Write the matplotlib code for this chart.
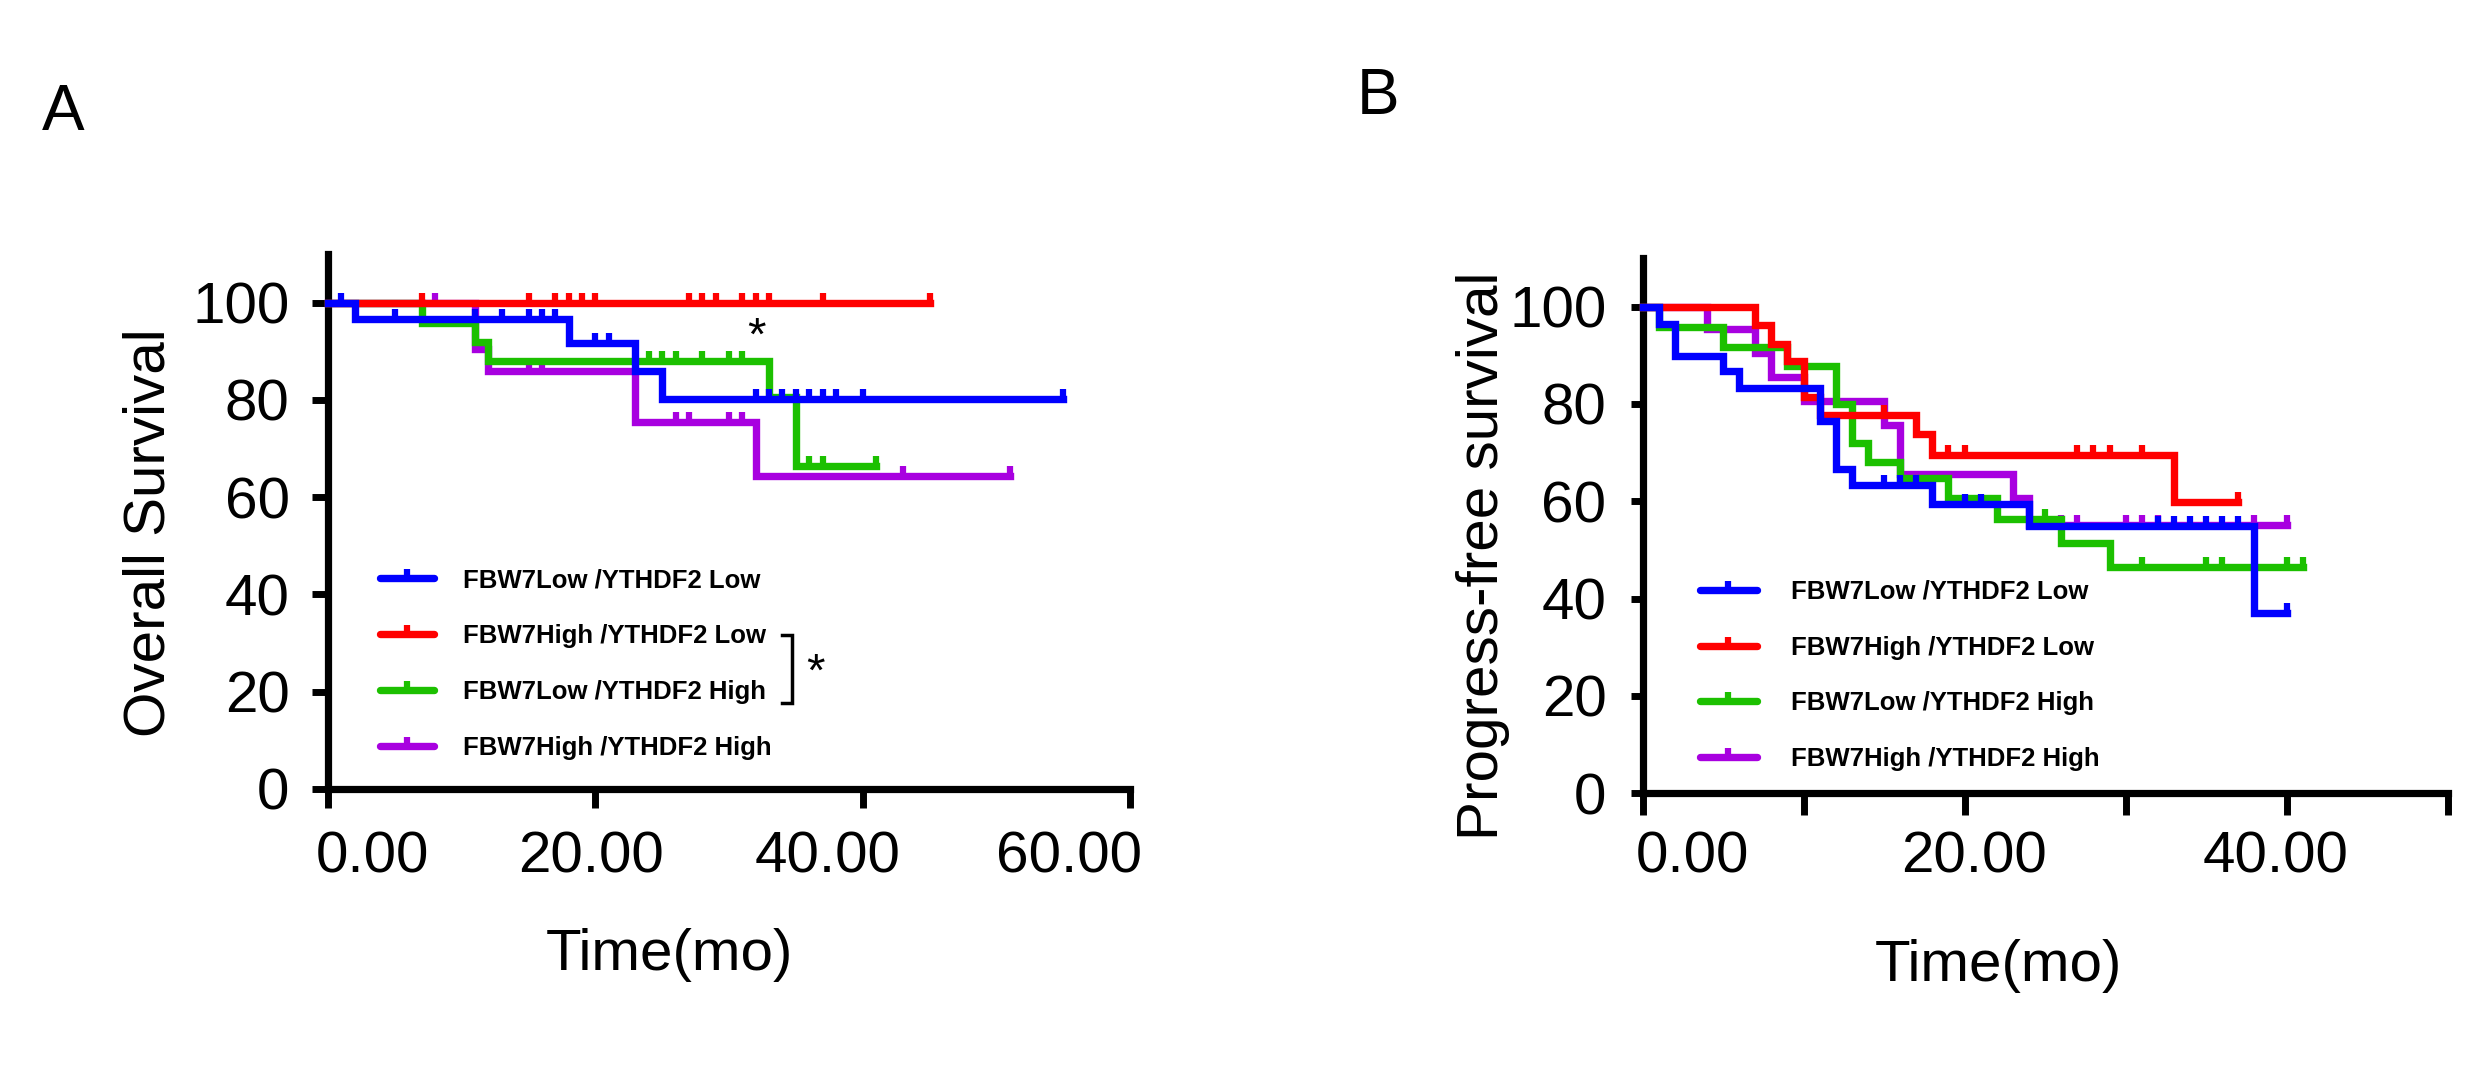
import numpy as np
import matplotlib
matplotlib.use('Agg')
import matplotlib.pyplot as plt
from matplotlib.path import Path
from matplotlib.lines import Line2D
from matplotlib.transforms import blended_transform_factory

plt.rcParams['font.family'] = ['Liberation Sans', 'DejaVu Sans']

# Groups (legend order) and colours
groups = ['FBW7Low /YTHDF2 Low', 'FBW7High /YTHDF2 Low',
          'FBW7Low /YTHDF2 High', 'FBW7High /YTHDF2 High']
colors = ['#0000ff', '#ff0000', '#1cc000', '#a800e0']

# Panel A - overall survival: event times, survival after each event, censored times
os_t = [
    [2, 18, 23, 25],
    [],
    [7, 11, 12, 33, 35],
    [11, 12, 23, 32],
]
os_s = [
    [96.7, 91.8, 86.0, 80.2],
    [],
    [95.8, 91.9, 88.0, 80.7, 66.5],
    [90.4, 86.0, 75.5, 64.4],
]
os_c = [
    [1, 5, 11, 13, 15, 16, 17, 20, 21, 32, 33, 34, 35, 36, 37, 38, 40, 55],
    [7, 15, 17, 18, 19, 20, 27, 28, 29, 31, 32, 33, 37, 45],
    [24, 25, 26, 28, 30, 31, 36, 37, 41],
    [8, 15, 16, 26, 27, 30, 31, 43, 51],
]

# Panel B - progress-free survival
pfs_t = [
    [1, 2, 5, 6, 11, 12, 13, 18, 24, 38],
    [7, 8, 9, 10, 11, 17, 18, 33],
    [1, 5, 9, 12, 13, 14, 16, 19, 22, 26, 29],
    [4, 7, 8, 10, 15, 16, 23, 24],
]
pfs_s = [
    [96.5, 89.9, 86.7, 83.3, 76.6, 66.6, 63.3, 59.4, 54.9, 37.0],
    [96.2, 92.4, 88.8, 81.4, 77.7, 73.8, 69.5, 59.8],
    [95.8, 91.8, 87.9, 79.9, 71.9, 68.0, 64.7, 60.6, 56.3, 51.4, 46.5],
    [95.4, 90.5, 85.6, 80.6, 75.6, 65.6, 60.7, 55.2],
]
pfs_c = [
    [15, 16, 17, 20, 21, 32, 33, 34, 35, 36, 37, 40],
    [15, 19, 20, 27, 28, 29, 31, 37],
    [25, 31, 35, 36, 40, 41],
    [26, 27, 30, 31, 32, 38, 40],
]

# Axis ticks and tick label texts
a_xticks = [0, 20, 40, 60]
a_xlabels = ['0.00', '20.00', '40.00', '60.00']
a_xlabel_pos = [3.3, 19.7, 37.4, 55.4]
b_xticks = [0, 10, 20, 30, 40, 50]
b_xlabels = ['0.00', '20.00', '40.00']
b_xlabel_pos = [3.1, 20.6, 39.3]
yticks = [0, 20, 40, 60, 80, 100]

censor_mark = Path([(0, 0), (0, 1)], [Path.MOVETO, Path.LINETO])
LW = 5.3


def draw_km(ax, t, s, c, color):
    t = np.asarray(t, dtype=float)
    levels = np.r_[100.0, s]
    x = np.r_[0.0, t, max(c)]
    y = np.r_[levels, levels[-1]]
    ax.plot(x, y, drawstyle='steps-post', color=color, lw=LW,
            solid_joinstyle='miter', solid_capstyle='projecting',
            clip_on=False, zorder=3)
    idx = np.searchsorted(t, c, side='right')
    ax.plot(c, levels[idx], ls='none', marker=censor_mark, ms=14.8,
            mew=4.5, mec=color, clip_on=False, zorder=3)


def style_axis(ax, xmax, xticks, xlen, ylen, ypad):
    for side in ['top', 'right']:
        ax.spines[side].set_visible(False)
    for side in ['left', 'bottom']:
        ax.spines[side].set_linewidth(5.2)
    ax.set_xlim(0, xmax)
    ax.set_ylim(0, 110)
    ax.set_xticks(xticks)
    ax.set_xticklabels([''] * len(xticks))
    ax.set_yticks(yticks)
    ax.set_yticklabels([str(v) for v in yticks], fontsize=42)
    ax.tick_params(axis='x', length=xlen, width=5.0, direction='out')
    ax.tick_params(axis='y', length=ylen, width=5.0, direction='out', pad=ypad)


def add_legend(ax, x, y, hlen, hpad):
    handles = [Line2D([], [], color=col, lw=LW, solid_capstyle='round',
                      marker=censor_mark, ms=13, mew=4.5, mec=col)
               for col in colors]
    ax.legend(handles, groups, loc='upper left', bbox_to_anchor=(x, y),
              frameon=False, numpoints=1, borderaxespad=0, borderpad=0,
              handlelength=hlen, handletextpad=hpad, labelspacing=1.24,
              prop={'weight': 'bold', 'size': 18.5})


fig = plt.figure(figsize=(24.8, 10.66), dpi=100)
ax_a = fig.add_axes([328 / 2480, 1 - 789 / 1066, 802 / 2480, 535 / 1066])
ax_b = fig.add_axes([1642.5 / 2480, 1 - 793.3 / 1066, 805.2 / 2480, 535.3 / 1066])

# draw purple, green, red, then blue on top
for i in [3, 2, 1, 0]:
    draw_km(ax_a, os_t[i], os_s[i], os_c[i], colors[i])
    draw_km(ax_b, pfs_t[i], pfs_s[i], pfs_c[i], colors[i])

style_axis(ax_a, 60, a_xticks, 13.7, 11.7, 16)
style_axis(ax_b, 50, b_xticks, 15.6, 9.0, 17)

tr_a = blended_transform_factory(ax_a.transData, ax_a.transAxes)
for pos, lab in zip(a_xlabel_pos, a_xlabels):
    ax_a.text(pos, -0.0785, lab, transform=tr_a, ha='center', va='top', fontsize=42)
tr_b = blended_transform_factory(ax_b.transData, ax_b.transAxes)
for pos, lab in zip(b_xlabel_pos, b_xlabels):
    ax_b.text(pos, -0.0686, lab, transform=tr_b, ha='center', va='top', fontsize=42)

ax_a.text(-0.223, 0.4785, 'Overall Survival', transform=ax_a.transAxes,
          rotation=90, ha='center', va='center', fontsize=42)
ax_a.text(0.4257, -0.310, 'Time(mo)', transform=ax_a.transAxes,
          ha='center', va='center', fontsize=42)
ax_b.text(-0.1975, 0.4433, 'Progress-free survival', transform=ax_b.transAxes,
          rotation=90, ha='center', va='center', fontsize=42)
ax_b.text(0.4415, -0.3226, 'Time(mo)', transform=ax_b.transAxes,
          ha='center', va='center', fontsize=42)

add_legend(ax_a, 0.065, 0.413, 2.1, 1.12)
add_legend(ax_b, 0.0708, 0.399, 2.22, 1.36)

# significance marks in panel A
ax_a.text(0.5345, (789 - 350) / 535, '*', transform=ax_a.transAxes,
          ha='center', va='baseline', fontsize=34)
ax_a.plot([0.5658, 0.5782, 0.5782, 0.5658], [0.2879, 0.2879, 0.1607, 0.1607],
          transform=ax_a.transAxes, color='black', lw=2.5, clip_on=False,
          solid_joinstyle='miter')
ax_a.text((815 - 328) / 802, (789 - 686) / 535, '*', transform=ax_a.transAxes,
          ha='center', va='baseline', fontsize=34)

fig.text(63 / 2480, 1 - 113 / 1066, 'A', ha='center', va='center', fontsize=46)
fig.text(1378 / 2480, 1 - 97 / 1066, 'B', ha='center', va='center', fontsize=46)

fig.savefig('out.png', dpi=100)
